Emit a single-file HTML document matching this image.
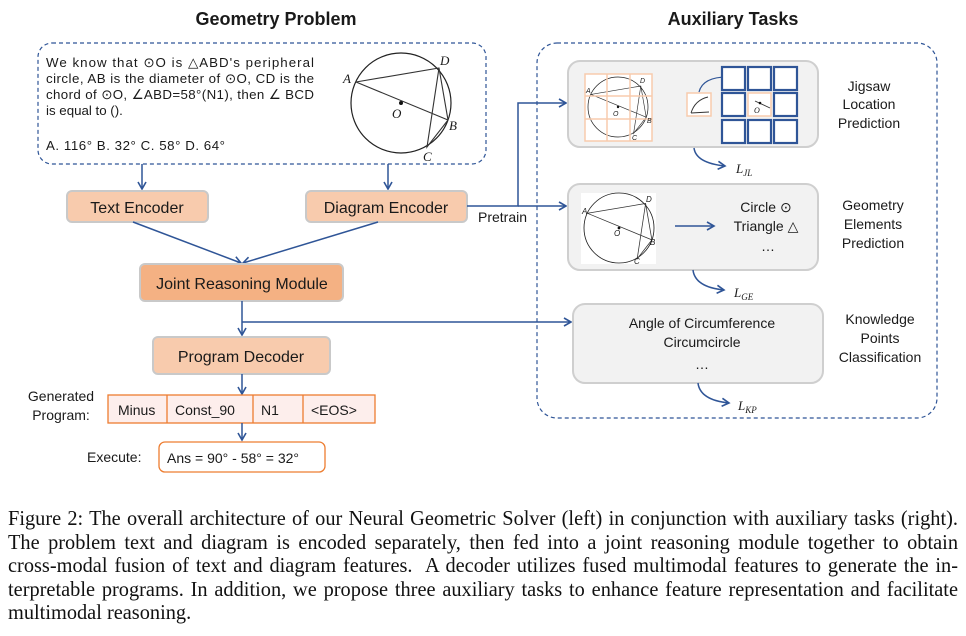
<!DOCTYPE html>
<html><head><meta charset="utf-8"><style>
html,body{margin:0;padding:0;background:#fff;width:966px;height:636px;overflow:hidden}
svg{position:absolute;left:0;top:0}
text{font-family:"Liberation Sans",sans-serif;fill:#1a1a1a}
.it{font-family:"Liberation Serif",serif;font-style:italic}
.cap{position:absolute;left:8px;width:980px;font-family:"Liberation Serif",serif;font-size:21px;color:#111;line-height:23.5px;top:507px;transform:scaleX(0.9694);transform-origin:0 0}
.cap div{text-align:justify;text-align-last:justify;white-space:nowrap}
.cap div.l{text-align-last:left}
</style></head><body>
<svg width="966" height="500" viewBox="0 0 966 500">
<defs>
<marker id="ah" markerWidth="10" markerHeight="10" refX="8" refY="5" orient="auto" markerUnits="userSpaceOnUse"><path d="M1,1 L8,5 L1,9" fill="none" stroke="#2f5597" stroke-width="1.6"/></marker>
<g id="geo">
<circle cx="0" cy="0" r="50" fill="none" stroke="#222" stroke-width="1.2"/>
<path d="M-45,-21 L38,-35 L47,17 M-45,-21 L47,17 M38,-35 L26,44 L47,17" fill="none" stroke="#333" stroke-width="1.1"/>
<circle cx="0" cy="0" r="2" fill="#111"/>
</g>
</defs>
<text x="276" y="25" font-size="18" font-weight="bold" text-anchor="middle">Geometry Problem</text>
<text x="733" y="25" font-size="18" font-weight="bold" text-anchor="middle">Auxiliary Tasks</text>
<rect x="38" y="43" width="448" height="121" rx="14" fill="none" stroke="#2f5597" stroke-width="1.2" stroke-dasharray="4,3"/>
<g font-size="13.3">
<text x="46" y="67" textLength="268" lengthAdjust="spacing">We know that ⊙O is △ABD's peripheral</text>
<text x="46" y="83" textLength="268" lengthAdjust="spacing">circle, AB is the diameter of ⊙O, CD is the</text>
<text x="46" y="99" textLength="268" lengthAdjust="spacing">chord of ⊙O, ∠ABD=58°(N1), then ∠ BCD</text>
<text x="46" y="115">is equal to ().</text>
<text x="46" y="150" textLength="179" lengthAdjust="spacing">A. 116°  B. 32°  C. 58°  D. 64°</text>
</g>
<use href="#geo" transform="translate(401,103)"/>
<g class="it" font-size="13"><text x="343" y="83" class="it">A</text><text x="440" y="65" class="it">D</text><text x="449" y="130" class="it">B</text><text x="423" y="161" class="it">C</text><text x="392" y="118" class="it">O</text></g>
<line x1="142" y1="164" x2="142" y2="189" stroke="#2f5597" stroke-width="1.5" marker-end="url(#ah)"/>
<line x1="388" y1="164" x2="388" y2="189" stroke="#2f5597" stroke-width="1.5" marker-end="url(#ah)"/>
<rect x="67" y="191" width="141" height="31" rx="5" fill="#f8cbad" stroke="#c9c9c9" stroke-width="2"/>
<text x="137" y="213" font-size="16" text-anchor="middle">Text Encoder</text>
<rect x="306" y="191" width="161" height="31" rx="5" fill="#f8cbad" stroke="#c9c9c9" stroke-width="2"/>
<text x="386" y="213" font-size="16" text-anchor="middle">Diagram Encoder</text>
<line x1="133" y1="222" x2="241" y2="263" stroke="#2f5597" stroke-width="1.5" marker-end="url(#ah)"/>
<line x1="378" y1="222" x2="243" y2="263" stroke="#2f5597" stroke-width="1.5" marker-end="url(#ah)"/>
<rect x="140" y="264" width="203" height="37" rx="5" fill="#f4b183" stroke="#c9c9c9" stroke-width="2"/>
<text x="242" y="289" font-size="16" text-anchor="middle">Joint Reasoning Module</text>
<line x1="242" y1="301" x2="242" y2="335" stroke="#2f5597" stroke-width="1.5" marker-end="url(#ah)"/>
<line x1="242" y1="322" x2="571" y2="322" stroke="#2f5597" stroke-width="1.5" marker-end="url(#ah)"/>
<rect x="153" y="337" width="177" height="37" rx="5" fill="#f8cbad" stroke="#c9c9c9" stroke-width="2"/>
<text x="241" y="362" font-size="16" text-anchor="middle">Program Decoder</text>
<line x1="242" y1="374" x2="242" y2="394" stroke="#2f5597" stroke-width="1.5" marker-end="url(#ah)"/>
<text x="61" y="401" font-size="14" text-anchor="middle">Generated</text>
<text x="61" y="420" font-size="14" text-anchor="middle">Program:</text>
<rect x="108" y="395" width="267" height="28" fill="#fdeeec" stroke="#ed7d31" stroke-width="1.3"/>
<path d="M167,395V423M253,395V423M303,395V423" stroke="#ed7d31" stroke-width="1.3"/>
<g font-size="14"><text x="118" y="415">Minus</text><text x="175" y="415">Const_90</text><text x="261" y="415">N1</text><text x="311" y="415">&lt;EOS&gt;</text></g>
<line x1="242" y1="423" x2="242" y2="440" stroke="#2f5597" stroke-width="1.5" marker-end="url(#ah)"/>
<text x="87" y="462" font-size="14">Execute:</text>
<rect x="159" y="442" width="166" height="30" rx="6" fill="#fff" stroke="#ed7d31" stroke-width="1.3"/>
<text x="167" y="463" font-size="14">Ans = 90° - 58° = 32°</text>
<path d="M467,206 H518 V103 H566" fill="none" stroke="#2f5597" stroke-width="1.5" marker-end="url(#ah)"/>
<line x1="518" y1="206" x2="566" y2="206" stroke="#2f5597" stroke-width="1.5" marker-end="url(#ah)"/>
<text x="478" y="222" font-size="14">Pretrain</text>
<rect x="537" y="43" width="400" height="375" rx="20" fill="none" stroke="#2f5597" stroke-width="1.2" stroke-dasharray="4,3"/>
<rect x="568" y="61" width="250" height="86" rx="12" fill="#f2f2f2" stroke="#cfcfcf" stroke-width="2"/>
<rect x="585" y="74" width="67" height="67" fill="#fff"/>
<use href="#geo" transform="translate(618,107) scale(0.6)"/>
<path d="M585,74h67v67h-67zM607,74v67M630,74v67M585,96h67M585,119h67" fill="none" stroke="#f8cbad" stroke-width="1.5"/>
<g class="it" font-size="7"><text x="586" y="93">A</text><text x="640" y="83">D</text><text x="647" y="123">B</text><text x="632" y="140">C</text><text x="613" y="116">O</text></g>
<rect x="687" y="93" width="24" height="23" fill="#fff" stroke="#f8cbad" stroke-width="1.5"/>
<path d="M691,113 Q695,100 708,97 M691,113 L709,112" fill="none" stroke="#333" stroke-width="0.9"/>
<path d="M699,92 Q703,76 731,77" fill="none" stroke="#2f5597" stroke-width="1.2" marker-end="url(#ah)"/>
<g fill="#fff" stroke="#2f5597" stroke-width="2.2">
<rect x="722" y="67" width="23" height="23"/><rect x="748" y="67" width="23" height="23"/><rect x="774" y="67" width="23" height="23"/>
<rect x="722" y="93" width="23" height="23"/><rect x="774" y="93" width="23" height="23"/>
<rect x="722" y="120" width="23" height="23"/><rect x="748" y="120" width="23" height="23"/><rect x="774" y="120" width="23" height="23"/>
</g>
<rect x="748" y="93" width="23" height="23" fill="#fff" stroke="#f8cbad" stroke-width="1.5"/>
<path d="M755,101 L770,108" stroke="#333" stroke-width="0.9"/><circle cx="760" cy="103" r="1.3" fill="#111"/>
<text x="754" y="113" class="it" font-size="8">O</text>
<g font-size="14" text-anchor="middle"><text x="869" y="91">Jigsaw</text><text x="869" y="109">Location</text><text x="869" y="128">Prediction</text></g>
<path d="M694,148 Q696,163 725,166" fill="none" stroke="#2f5597" stroke-width="1.5" marker-end="url(#ah)"/>
<text x="736" y="173" class="it" font-size="13">L<tspan font-size="9" dy="3">JL</tspan></text>
<rect x="568" y="184" width="250" height="86" rx="12" fill="#f2f2f2" stroke="#cfcfcf" stroke-width="2"/>
<rect x="581" y="193" width="75" height="71" fill="#fff"/>
<use href="#geo" transform="translate(619,228) scale(0.7)"/>
<g class="it" font-size="8"><text x="582" y="214">A</text><text x="646" y="202">D</text><text x="650" y="245">B</text><text x="634" y="264">C</text><text x="614" y="236">O</text></g>
<line x1="675" y1="226" x2="714" y2="226" stroke="#2f5597" stroke-width="1.5" marker-end="url(#ah)"/>
<g font-size="14" text-anchor="middle"><text x="766" y="212">Circle ⊙</text><text x="766" y="231">Triangle △</text><text x="768" y="251">…</text></g>
<g font-size="14" text-anchor="middle"><text x="873" y="210">Geometry</text><text x="873" y="229">Elements</text><text x="873" y="248">Prediction</text></g>
<path d="M693,270 Q695,287 724,290" fill="none" stroke="#2f5597" stroke-width="1.5" marker-end="url(#ah)"/>
<text x="734" y="297" class="it" font-size="13">L<tspan font-size="9" dy="3">GE</tspan></text>
<rect x="573" y="304" width="250" height="79" rx="12" fill="#f2f2f2" stroke="#cfcfcf" stroke-width="2"/>
<g font-size="14" text-anchor="middle"><text x="702" y="328">Angle of Circumference</text><text x="702" y="347">Circumcircle</text><text x="702" y="369">…</text></g>
<g font-size="14" text-anchor="middle"><text x="880" y="324">Knowledge</text><text x="880" y="343">Points</text><text x="880" y="362">Classification</text></g>
<path d="M698,383 Q700,400 729,403" fill="none" stroke="#2f5597" stroke-width="1.5" marker-end="url(#ah)"/>
<text x="738" y="410" class="it" font-size="13">L<tspan font-size="9" dy="3">KP</tspan></text>
</svg>
<div class="cap">
<div>Figure 2: The overall architecture of our Neural Geometric Solver (left) in conjunction with auxiliary tasks (right).</div>
<div>The problem text and diagram is encoded separately, then fed into a joint reasoning module together to obtain</div>
<div>cross-modal fusion of text and diagram features.&nbsp; A decoder utilizes fused multimodal features to generate the in-</div>
<div>terpretable programs. In addition, we propose three auxiliary tasks to enhance feature representation and facilitate</div>
<div class="l">multimodal reasoning.</div>
</div>
</body></html>
